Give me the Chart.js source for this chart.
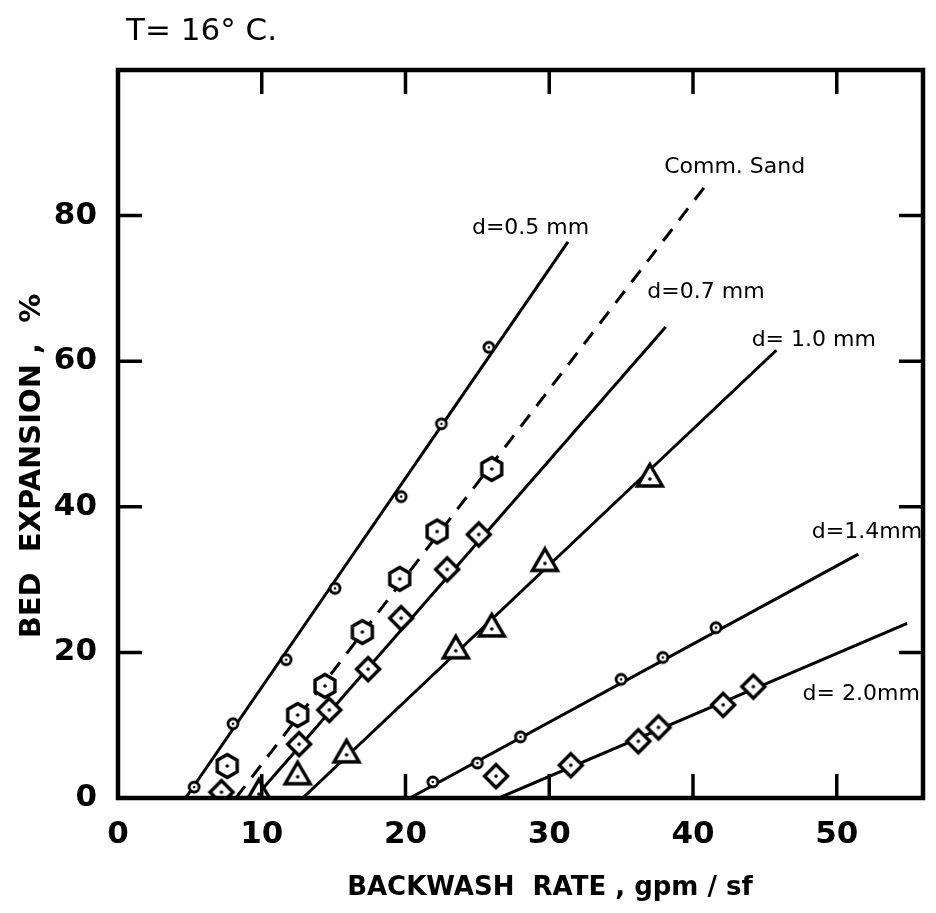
<!DOCTYPE html>
<html>
<head>
<meta charset="utf-8">
<script src="https://cdn.jsdelivr.net/npm/chart.js@4/dist/chart.umd.min.js"></script>
<style>
  html, body { margin: 0; padding: 0; background: #fff; }
  #wrap { width: 936px; height: 913px; }
</style>
</head>
<body>
<div id="wrap"><canvas id="chart" width="936" height="913"></canvas></div>
<script>
// axis ticks
const xTickValues = [0, 10, 20, 30, 40, 50];
const yTickValues = [0, 20, 40, 60, 80];

// measured points (backwash rate, bed expansion %)
const d05X = [5.3, 8.0, 11.7, 15.1, 19.7, 22.5, 25.8];
const d05Y = [1.5, 10.2, 19.0, 28.8, 41.4, 51.4, 61.9];
const sandX = [7.6, 12.5, 14.4, 17.0, 19.6, 22.2, 26.0];
const sandY = [4.4, 11.4, 15.4, 22.8, 30.1, 36.6, 45.2];
const d07X = [7.2, 12.6, 14.7, 17.4, 19.7, 22.9, 25.1];
const d07Y = [0.8, 7.4, 12.1, 17.7, 24.7, 31.4, 36.2];
const d10X = [9.8, 12.5, 15.9, 23.5, 26.0, 29.7, 37.0];
const d10Y = [0.8, 3.2, 6.2, 20.5, 23.5, 32.5, 44.1];
const d14X = [21.9, 25.0, 28.0, 35.0, 37.9, 41.6];
const d14Y = [2.2, 4.8, 8.4, 16.3, 19.3, 23.4];
const d20X = [26.3, 31.5, 36.2, 37.6, 42.1, 44.2];
const d20Y = [3.0, 4.5, 7.8, 9.7, 12.8, 15.3];

// fitted lines (end points)
const fit05X = [4.7, 31.3],  fit05Y = [0, 76.4];
const fitSandX = [8.2, 41.1], fitSandY = [0, 84.7];
const fit07X = [9.5, 38.1],  fit07Y = [0, 64.7];
const fit10X = [12.85, 45.8], fit10Y = [0, 61.5];
const fit14X = [20.3, 51.5], fit14Y = [0, 33.5];
const fit20X = [26.5, 54.9], fit20Y = [0, 24.0];

// curve labels
const curveLabels = ['d=0.5 mm', 'Comm. Sand', 'd=0.7 mm', 'd= 1.0 mm', 'd=1.4mm', 'd= 2.0mm'];
const labelX = [28.7, 42.9, 40.9, 48.4, 52.1, 51.7];
const labelY = [78.3, 86.7, 69.5, 62.9, 36.5, 14.3];

function pts(xs, ys) {
    return xs.map((x, i) => ({ x: x, y: ys[i] }));
}

// marker images: hollow shape with a dot in the middle
function makeMarker(kind) {
    const size = kind === 'circle' ? 16 : 32;
    const c = document.createElement('canvas');
    c.width = size; c.height = size;
    const g = c.getContext('2d');
    const m = size / 2;
    g.strokeStyle = '#000';
    g.fillStyle = '#fff';
    g.lineJoin = 'miter';
    g.beginPath();
    if (kind === 'circle') {
        g.lineWidth = 2.8;
        g.arc(m, m, 5, 0, Math.PI * 2);
    } else if (kind === 'hexagon') {
        g.lineWidth = 3.4;
        for (let i = 0; i < 6; i++) {
            const a = Math.PI / 6 + i * Math.PI / 3;
            const px = m + 11.5 * Math.cos(a), py = m + 11.5 * Math.sin(a);
            if (i === 0) g.moveTo(px, py); else g.lineTo(px, py);
        }
        g.closePath();
    } else if (kind === 'diamond') {
        g.lineWidth = 3.4;
        g.moveTo(m, m - 11.5); g.lineTo(m + 11.5, m); g.lineTo(m, m + 11.5); g.lineTo(m - 11.5, m);
        g.closePath();
    } else if (kind === 'triangle') {
        g.lineWidth = 3.4;
        g.moveTo(m, m - 12.5); g.lineTo(m + 12.5, m + 9); g.lineTo(m - 12.5, m + 9);
        g.closePath();
    }
    g.fill();
    g.stroke();
    g.fillStyle = '#000';
    g.beginPath();
    g.arc(m, kind === 'triangle' ? m + 2 : m, kind === 'circle' ? 1.3 : 1.8, 0, Math.PI * 2);
    g.fill();
    return c;
}

const markCircle = makeMarker('circle');
const markHex = makeMarker('hexagon');
const markDiamond = makeMarker('diamond');
const markTri = makeMarker('triangle');

function fitLine(xs, ys, dash) {
    return {
        type: 'line', data: pts(xs, ys), borderColor: '#000', borderWidth: 3,
        borderDash: dash || [], pointRadius: 0, fill: false, order: 2, tension: 0
    };
}
function markers(xs, ys, img) {
    return {
        type: 'scatter', data: pts(xs, ys), pointStyle: img, pointRadius: 12,
        order: 1
    };
}

// text, frame and inward ticks
const decorations = {
    id: 'decorations',
    afterDraw(chart) {
        const ctx = chart.ctx;
        const a = chart.chartArea;
        const xs = chart.scales.x, ys = chart.scales.y;
        ctx.save();
        ctx.fillStyle = '#000';

        // curve labels
        ctx.font = '500 22px "DejaVu Sans"';
        ctx.textAlign = 'center';
        ctx.textBaseline = 'middle';
        curveLabels.forEach((t, i) => {
            ctx.fillText(t, xs.getPixelForValue(labelX[i]), ys.getPixelForValue(labelY[i]));
        });

        // frame
        ctx.strokeStyle = '#000';
        ctx.lineWidth = 4.5;
        ctx.strokeRect(a.left, a.top, a.right - a.left, a.bottom - a.top);

        // inward ticks on all four sides
        ctx.lineWidth = 3.5;
        const tl = 24;
        ctx.beginPath();
        xTickValues.forEach(v => {
            if (v === 0) return;
            const px = xs.getPixelForValue(v);
            ctx.moveTo(px, a.bottom); ctx.lineTo(px, a.bottom - tl);
            ctx.moveTo(px, a.top); ctx.lineTo(px, a.top + tl);
        });
        yTickValues.forEach(v => {
            if (v === 0) return;
            const py = ys.getPixelForValue(v);
            ctx.moveTo(a.left, py); ctx.lineTo(a.left + tl, py);
            ctx.moveTo(a.right, py); ctx.lineTo(a.right - tl, py);
        });
        ctx.stroke();

        // title
        ctx.textAlign = 'left';
        ctx.textBaseline = 'alphabetic';
        ctx.font = '31px "DejaVu Sans"';
        ctx.fillText('T= 16° C.', 126, 40);

        // axis titles
        ctx.font = 'bold 26px "DejaVu Sans"';
        ctx.textAlign = 'center';
        ctx.fillText('BACKWASH  RATE , gpm / sf', 550, 895);

        ctx.save();
        ctx.translate(40, 466);
        ctx.rotate(-Math.PI / 2);
        ctx.font = 'bold 29px "DejaVu Sans"';
        ctx.fillText('BED  EXPANSION ,  %', 0, 0);
        ctx.restore();

        ctx.restore();
    }
};

new Chart(document.getElementById('chart'), {
    data: {
        datasets: [
            fitLine(fit05X, fit05Y),
            fitLine(fitSandX, fitSandY, [15, 11]),
            fitLine(fit07X, fit07Y),
            fitLine(fit10X, fit10Y),
            fitLine(fit14X, fit14Y),
            fitLine(fit20X, fit20Y),
            markers(d05X, d05Y, markCircle),
            markers(sandX, sandY, markHex),
            markers(d07X, d07Y, markDiamond),
            markers(d10X, d10Y, markTri),
            markers(d14X, d14Y, markCircle),
            markers(d20X, d20Y, markDiamond)
        ]
    },
    options: {
        responsive: false,
        animation: false,
        layout: { padding: { top: 70, right: 3, left: 0, bottom: 0 } },
        plugins: { legend: { display: false }, tooltip: { enabled: false } },
        scales: {
            x: {
                type: 'linear', min: 0, max: 56,
                grid: { display: false, drawTicks: false },
                border: { display: false },
                afterBuildTicks: s => { s.ticks = xTickValues.map(v => ({ value: v })); },
                afterFit: s => { s.height = 115; },
                ticks: {
                    padding: 18, maxRotation: 0, autoSkip: false,
                    color: '#000', font: { family: 'DejaVu Sans', size: 31, weight: 'bold' }
                }
            },
            y: {
                type: 'linear', min: 0, max: 100,
                grid: { display: false, drawTicks: false },
                border: { display: false },
                afterBuildTicks: s => { s.ticks = yTickValues.map(v => ({ value: v })); },
                afterFit: s => { s.width = 118; },
                ticks: {
                    padding: 21, autoSkip: false,
                    color: '#000', font: { family: 'DejaVu Sans', size: 31, weight: 'bold' }
                }
            }
        }
    },
    plugins: [decorations]
});
</script>
</body>
</html>
